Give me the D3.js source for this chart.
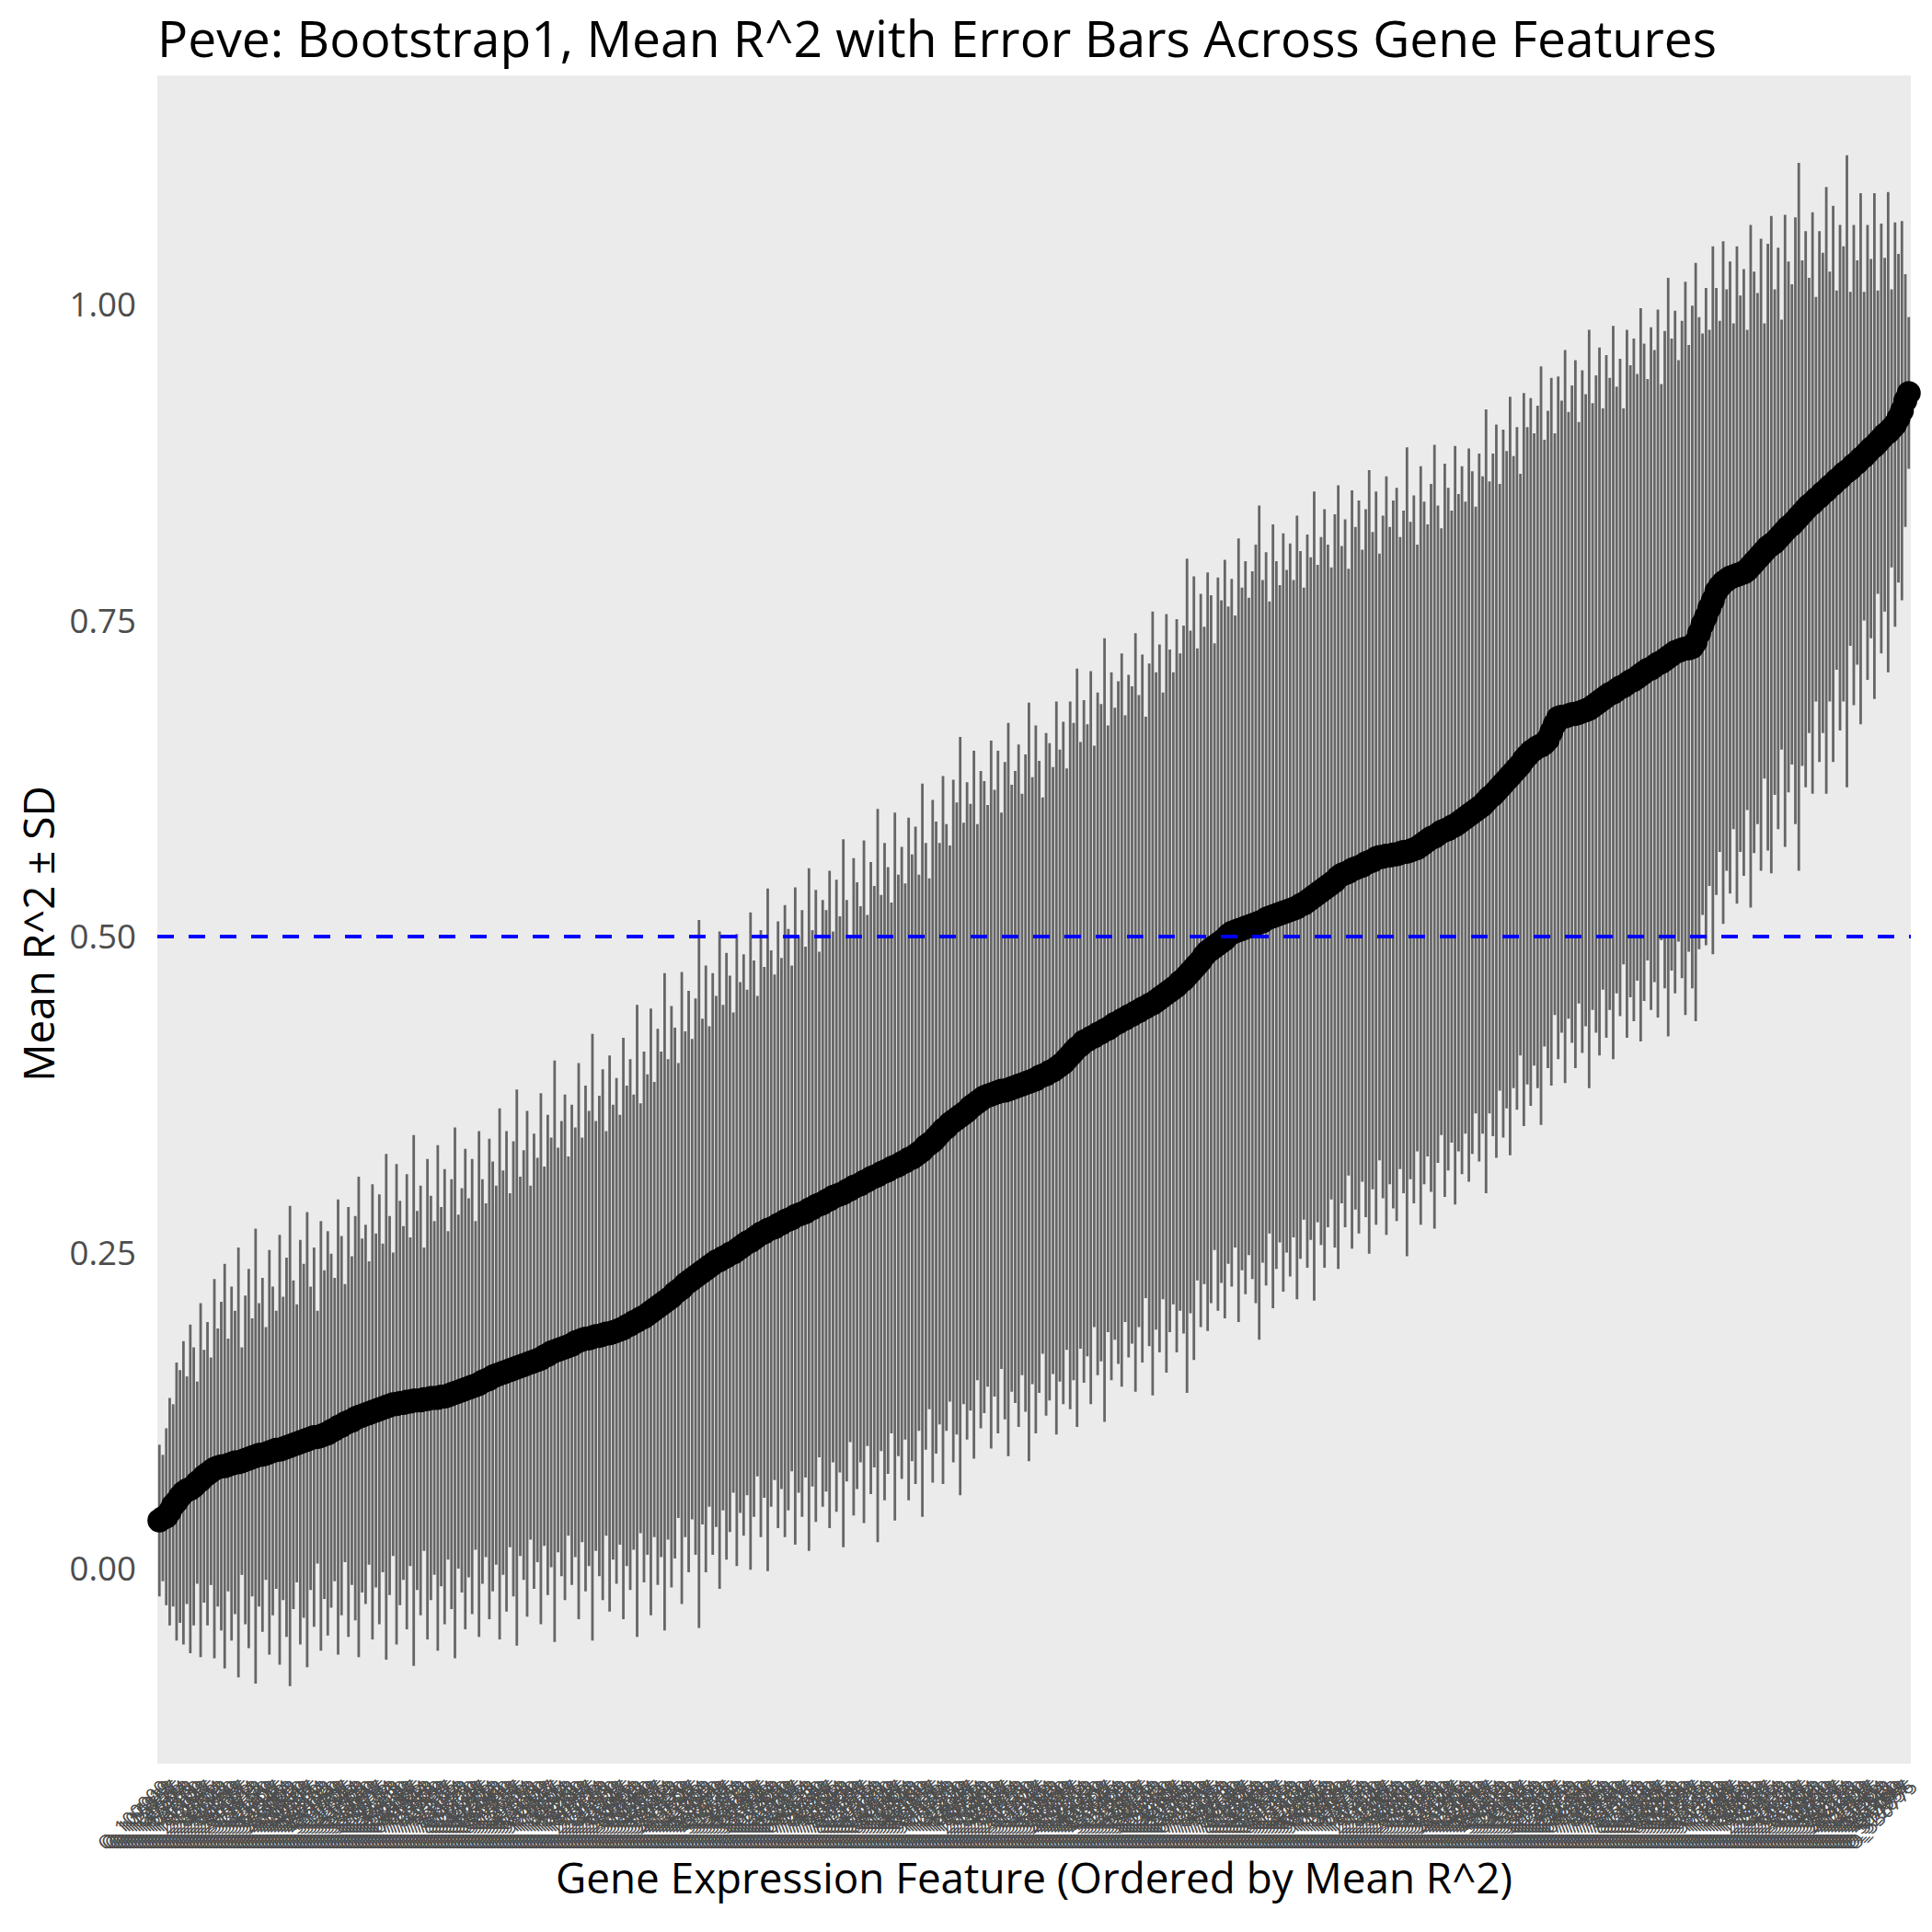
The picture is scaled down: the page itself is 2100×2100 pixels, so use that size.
<!DOCTYPE html>
<html>
<head>
<meta charset="utf-8">
<script src="https://cdn.jsdelivr.net/npm/d3@7"></script>
<style>
  body { margin: 0; background: #fff; }
  text { font-family: "Open Sans", "Noto Sans", sans-serif; }
</style>
</head>
<body>
<div id="container"></div>
<script>
// Mean R^2 per feature, already sorted
const meanR2 = [
  0.038,0.040,0.041,0.045,0.050,0.053,0.057,0.060,
  0.062,0.063,0.065,0.068,0.070,0.073,0.075,0.077,0.079,
  0.080,0.081,0.081,0.082,0.083,0.084,0.084,0.085,0.086,
  0.087,0.088,0.089,0.090,0.090,0.091,0.092,0.093,0.094,
  0.094,0.095,0.096,0.097,0.098,0.099,0.100,0.101,0.102,0.103,0.104,0.104,0.105,
  0.106,0.107,0.109,0.110,0.112,0.113,0.115,0.116,0.117,0.119,0.120,
  0.121,0.122,0.123,0.124,0.125,0.126,0.127,0.128,0.129,0.130,
  0.130,0.131,0.131,0.132,0.132,0.133,0.133,0.133,0.134,0.134,0.135,0.135,0.135,0.136,0.136,
  0.137,0.138,0.139,0.140,0.141,0.142,0.143,0.144,0.145,0.146,0.148,0.149,0.150,0.152,
  0.153,0.154,0.155,0.156,0.157,0.158,0.159,0.160,0.161,0.162,0.163,0.164,0.165,0.166,
  0.168,0.169,0.171,0.172,0.173,0.174,0.175,0.176,0.177,0.179,0.180,
  0.181,0.182,0.182,0.183,0.184,0.184,0.185,0.186,0.186,0.187,0.188,
  0.189,0.190,0.192,0.193,0.195,0.196,0.198,0.199,0.201,0.203,0.205,
  0.207,0.209,0.211,0.213,0.215,0.218,0.220,0.222,0.225,0.227,
  0.229,0.231,0.233,0.235,0.237,0.239,0.241,0.243,0.244,0.246,0.247,
  0.249,0.250,0.252,0.254,0.256,0.258,0.259,0.261,0.263,0.265,0.266,
  0.268,0.269,0.270,0.272,0.273,0.275,0.276,0.277,0.279,0.280,0.281,
  0.282,0.284,0.285,0.287,0.288,0.289,0.291,0.292,0.294,0.295,
  0.296,0.297,0.299,0.300,0.302,0.303,0.304,0.306,0.307,0.309,0.310,
  0.311,0.313,0.314,0.315,0.317,0.318,0.319,0.321,0.322,0.324,0.325,
  0.327,0.329,0.331,0.334,0.336,0.338,0.341,0.344,0.347,0.349,0.352,
  0.354,0.356,0.358,0.360,0.362,0.365,0.367,0.369,0.371,0.373,
  0.374,0.375,0.376,0.377,0.378,0.378,0.379,0.380,0.381,0.382,0.383,
  0.384,0.385,0.386,0.387,0.389,0.390,0.391,0.393,0.394,0.396,0.398,
  0.400,0.403,0.406,0.409,0.412,0.414,0.417,
  0.418,0.420,0.421,0.423,0.424,0.426,0.427,0.429,0.431,0.432,0.434,
  0.435,0.437,0.438,0.440,0.441,0.443,0.444,0.446,0.447,0.449,
  0.451,0.453,0.455,0.457,0.459,0.461,0.464,0.466,
  0.469,0.472,0.475,0.478,0.481,0.485,0.488,
  0.490,0.492,0.494,0.496,0.498,0.501,0.503,
  0.504,0.505,0.506,0.507,0.508,0.509,0.510,0.511,0.512,0.514,0.515,
  0.516,0.517,0.518,0.519,0.520,0.521,0.522,0.523,0.525,0.526,
  0.528,0.530,0.532,0.534,0.536,0.538,0.540,0.542,0.544,0.547,0.549,
  0.550,0.551,0.553,0.554,0.555,0.556,0.558,0.559,0.560,0.562,0.563,
  0.563,0.564,0.564,0.565,0.565,0.566,0.567,0.567,0.568,0.569,0.570,
  0.572,0.574,0.576,0.578,0.579,0.581,0.583,
  0.584,0.585,0.587,0.588,0.590,0.592,0.594,0.596,0.598,0.600,0.602,
  0.604,0.607,0.610,0.612,0.615,0.618,0.621,0.624,0.627,
  0.630,0.633,0.636,0.640,0.643,0.646,0.648,
  0.650,0.651,0.653,0.656,0.662,0.668,0.673,
  0.674,0.674,0.675,0.676,0.676,0.677,0.678,0.679,0.680,
  0.682,0.684,0.686,0.688,0.690,0.692,0.693,0.695,0.697,0.698,0.700,
  0.702,0.703,0.705,0.707,0.709,0.711,0.712,0.714,0.716,0.717,0.719,
  0.721,0.723,0.725,0.726,0.727,0.728,0.728,0.729,
  0.733,0.740,0.747,0.753,0.760,0.766,0.773,
  0.777,0.780,0.782,0.784,0.785,0.786,0.787,0.788,0.790,
  0.793,0.796,0.799,0.802,0.805,0.808,0.810,0.812,0.815,
  0.818,0.821,0.824,0.826,0.829,0.832,0.835,0.838,0.841,
  0.843,0.846,0.848,0.851,0.853,0.856,0.858,0.861,0.863,0.866,0.868,
  0.870,0.873,0.875,0.878,0.880,0.883,0.886,0.888,0.891,0.894,0.897,
  0.899,0.902,0.905,0.910,0.916,0.924,0.930
];

// SD of R^2 per feature (half length of each error bar)
const sdR2 = [
  0.06,0.05,0.07,0.09,0.08,0.11,0.10,0.12,0.09,0.13,
  0.11,0.08,0.14,0.10,0.12,0.09,0.15,0.11,0.13,0.16,
  0.10,0.14,0.12,0.17,0.09,0.13,0.15,0.11,0.18,0.12,
  0.14,0.10,0.16,0.13,0.11,0.17,0.12,0.15,0.19,0.13,
  0.11,0.16,0.14,0.18,0.12,0.15,0.10,0.17,0.13,0.16,
  0.14,0.12,0.18,0.15,0.11,0.17,0.13,0.16,0.19,0.14,
  0.15,0.12,0.18,0.14,0.17,0.13,0.20,0.15,0.12,0.19,
  0.16,0.14,0.18,0.13,0.21,0.15,0.17,0.12,0.19,0.16,
  0.14,0.20,0.15,0.18,0.13,0.17,0.21,0.14,0.16,0.19,
  0.15,0.18,0.13,0.20,0.16,0.14,0.19,0.17,0.15,0.21,
  0.16,0.19,0.14,0.18,0.22,0.15,0.17,0.20,0.14,0.18,
  0.16,0.21,0.15,0.19,0.17,0.23,0.16,0.18,0.20,0.15,
  0.19,0.17,0.22,0.16,0.20,0.18,0.24,0.17,0.19,0.21,
  0.16,0.22,0.18,0.20,0.17,0.23,0.19,0.21,0.18,0.25,
  0.17,0.21,0.19,0.24,0.18,0.22,0.20,0.26,0.19,0.23,
  0.21,0.18,0.25,0.20,0.23,0.19,0.22,0.28,0.20,0.24,
  0.19,0.23,0.21,0.26,0.20,0.24,0.22,0.19,0.25,0.21,
  0.23,0.20,0.26,0.22,0.19,0.24,0.21,0.27,0.22,0.20,
  0.24,0.21,0.25,0.23,0.20,0.26,0.22,0.24,0.21,0.27,
  0.22,0.25,0.20,0.24,0.23,0.26,0.21,0.25,0.22,0.28,
  0.23,0.20,0.26,0.24,0.22,0.27,0.21,0.25,0.23,0.29,
  0.22,0.26,0.24,0.21,0.28,0.23,0.25,0.22,0.27,0.24,
  0.26,0.22,0.29,0.24,0.21,0.27,0.25,0.23,0.28,0.24,
  0.22,0.27,0.25,0.30,0.23,0.26,0.24,0.28,0.22,0.26,
  0.25,0.23,0.28,0.24,0.27,0.22,0.26,0.29,0.24,0.25,
  0.27,0.23,0.26,0.30,0.24,0.28,0.25,0.22,0.27,0.26,
  0.24,0.29,0.25,0.27,0.23,0.28,0.26,0.30,0.24,0.27,
  0.25,0.29,0.23,0.27,0.26,0.31,0.24,0.28,0.25,0.27,
  0.29,0.24,0.27,0.26,0.30,0.25,0.28,0.23,0.27,0.31,
  0.26,0.28,0.24,0.30,0.27,0.25,0.29,0.26,0.28,0.33,
  0.27,0.31,0.25,0.29,0.26,0.30,0.28,0.24,0.29,0.27,
  0.30,0.26,0.28,0.25,0.31,0.27,0.29,0.26,0.28,0.30,
  0.33,0.27,0.29,0.25,0.31,0.28,0.26,0.30,0.27,0.29,
  0.26,0.31,0.28,0.25,0.29,0.27,0.32,0.26,0.28,0.30,
  0.27,0.25,0.29,0.31,0.26,0.28,0.24,0.30,0.27,0.29,
  0.25,0.28,0.31,0.26,0.29,0.24,0.27,0.30,0.26,0.28,
  0.29,0.25,0.27,0.32,0.26,0.28,0.24,0.30,0.27,0.25,
  0.28,0.31,0.26,0.24,0.29,0.27,0.25,0.30,0.26,0.28,
  0.25,0.29,0.27,0.24,0.28,0.26,0.31,0.25,0.27,0.29,
  0.24,0.28,0.26,0.30,0.25,0.27,0.23,0.29,0.26,0.28,
  0.25,0.27,0.30,0.24,0.26,0.28,0.23,0.27,0.25,0.29,
  0.24,0.26,0.28,0.23,0.27,0.25,0.30,0.24,0.26,0.28,
  0.23,0.27,0.25,0.29,0.24,0.26,0.22,0.28,0.25,0.27,
  0.24,0.29,0.26,0.23,0.27,0.25,0.28,0.22,0.26,0.30,
  0.25,0.27,0.23,0.26,0.29,0.24,0.27,0.30,0.25,0.23,
  0.26,0.22,0.28,0.24,0.21,0.27,0.23,0.25,0.20,0.26,
  0.22,0.24,0.19,0.27,0.23,0.21,0.25,0.18,0.24,0.26,
  0.20,0.23,0.17,0.25,0.21,0.19,0.24,0.28,0.20,0.22,
  0.18,0.23,0.16,0.21,0.19,0.24,0.17,0.22,0.15,0.20,
  0.18,0.25,0.14,0.19,0.16,0.21,0.13,0.18,0.15,0.20,
  0.12,0.17,0.14,0.19,0.11,0.16,0.13,0.15,0.10,0.06
];

// y axis ticks
const yTicks = [0, 0.25, 0.5, 0.75, 1.0];
const yTickLabels = ["0.00", "0.25", "0.50", "0.75", "1.00"];
const refLine = 0.5;

// feature names on the x axis (unreadable in the picture, kept as ids)
const featureLabels = meanR2.map((d, i) => "O_" + String(100000 + (i * 7919) % 899999));

const titleText = "Peve: Bootstrap1, Mean R^2 with Error Bars Across Gene Features";
const xTitle = "Gene Expression Feature (Ordered by Mean R^2)";
const yTitle = "Mean R^2 \u00b1 SD";

window.onload = function () {
  const W = 2100, H = 2100;
  const left = 171, right = 2077, top = 82, bottom = 1917;
  const n = Math.min(meanR2.length, sdR2.length);
  console.log('points', meanR2.length, sdR2.length);

  const rows = d3.range(n).map(i => ({ id: featureLabels[i], mean: meanR2[i], sd: sdR2[i] }));

  const svg = d3.select('#container').append('svg')
    .attr('width', W).attr('height', H);

  svg.append('rect').attr('width', W).attr('height', H).attr('fill', '#fff');

  // discrete x like ggplot: 0.6 step of padding on each side
  const xScale = d3.scalePoint()
    .domain(rows.map(d => d.id))
    .range([left, right])
    .padding(0.6);

  // 0 sits at y=1705 and 1 at y=331
  const yScale = d3.scaleLinear()
    .domain([-0.1543, 1.1812])
    .range([bottom, top]);

  // grey panel
  svg.append('rect')
    .attr('x', left).attr('y', top)
    .attr('width', right - left).attr('height', bottom - top)
    .attr('fill', '#EBEBEB');

  const chart = svg.append('g');

  // error bars
  chart.append('g').selectAll('line')
    .data(rows)
    .enter()
    .append('line')
    .attr('x1', d => xScale(d.id))
    .attr('x2', d => xScale(d.id))
    .attr('y1', d => yScale(d.mean - d.sd))
    .attr('y2', d => yScale(d.mean + d.sd))
    .attr('stroke', '#666666')
    .attr('stroke-width', 2.8);

  // mean points
  chart.append('g').selectAll('circle')
    .data(rows)
    .enter()
    .append('circle')
    .attr('cx', d => xScale(d.id))
    .attr('cy', d => yScale(d.mean))
    .attr('r', 13)
    .attr('fill', '#000');

  // dashed reference line at 0.5
  chart.append('line')
    .attr('x1', left).attr('x2', right)
    .attr('y1', yScale(refLine)).attr('y2', yScale(refLine))
    .attr('stroke', '#0000FF')
    .attr('stroke-width', 4)
    .attr('stroke-dasharray', '18,16');

  // y tick labels
  svg.append('g').selectAll('text')
    .data(yTicks)
    .enter()
    .append('text')
    .attr('x', 148)
    .attr('y', d => yScale(d))
    .attr('dy', '0.36em')
    .attr('text-anchor', 'end')
    .attr('font-size', 36.7)
    .attr('fill', '#4D4D4D')
    .text((d, i) => yTickLabels[i]);

  // x tick labels, rotated 45 degrees
  svg.append('g').selectAll('text')
    .data(rows)
    .enter()
    .append('text')
    .attr('transform', d => `translate(${xScale(d.id)}, 1933) rotate(-45)`)
    .attr('dy', '0.72em')
    .attr('text-anchor', 'end')
    .attr('font-size', 21)
    .attr('fill', '#4D4D4D')
    .text(d => d.id);

  // title
  svg.append('text')
    .attr('x', left)
    .attr('y', 62)
    .attr('font-size', 55)
    .attr('fill', '#000')
    .attr('textLength', 1695)
    .attr('lengthAdjust', 'spacingAndGlyphs')
    .text(titleText);

  // x axis title
  svg.append('text')
    .attr('x', (left + right) / 2)
    .attr('y', 2058)
    .attr('text-anchor', 'middle')
    .attr('font-size', 45.8)
    .attr('fill', '#000')
    .attr('textLength', 1040)
    .attr('lengthAdjust', 'spacingAndGlyphs')
    .text(xTitle);

  // y axis title
  svg.append('text')
    .attr('transform', 'translate(59, 1015) rotate(-90)')
    .attr('text-anchor', 'middle')
    .attr('font-size', 45.8)
    .attr('fill', '#000')
    .text(yTitle);
};
</script>
</body>
</html>
